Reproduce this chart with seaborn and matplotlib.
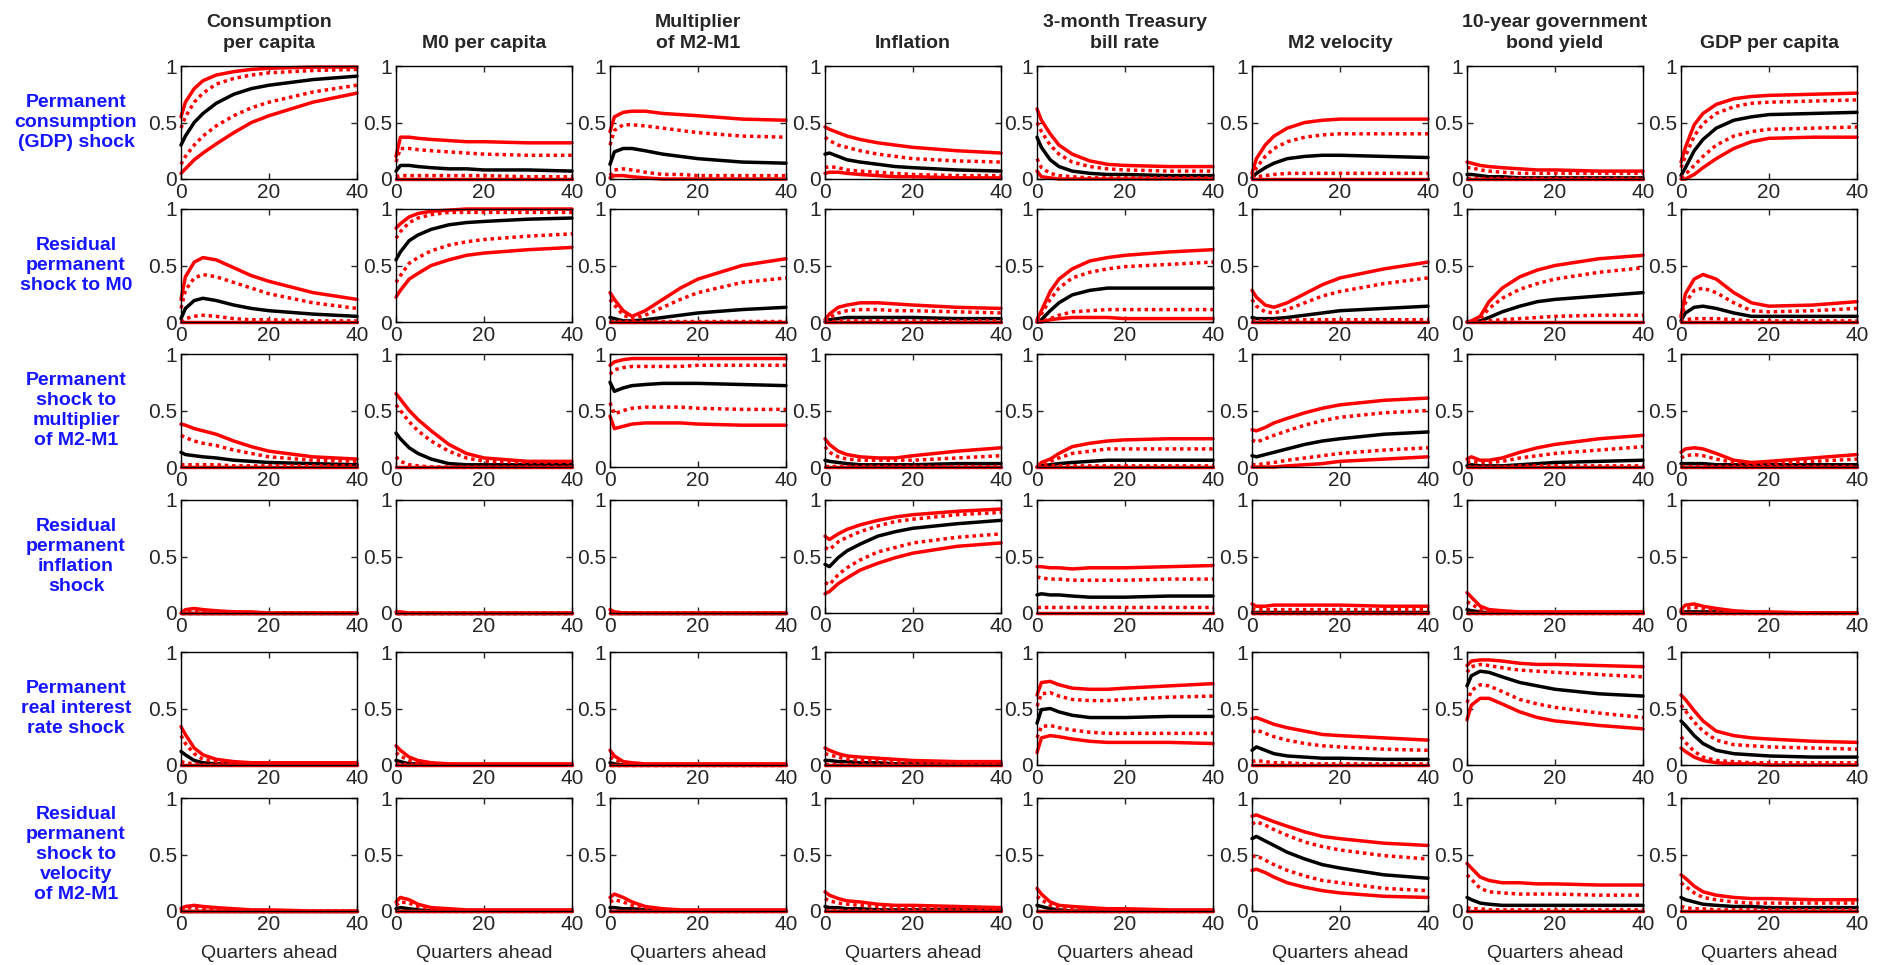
import matplotlib
matplotlib.use('Agg')
import matplotlib.pyplot as plt
import seaborn as sns

quarters = [0, 1, 3, 5, 8, 12, 16, 20, 30, 40]

col_titles = ['Consumption\nper capita', 'M0 per capita', 'Multiplier\nof M2-M1', 'Inflation',
              '3-month Treasury\nbill rate', 'M2 velocity', '10-year government\nbond yield', 'GDP per capita']
row_labels = ['Permanent\nconsumption\n(GDP) shock', 'Residual\npermanent\nshock to M0',
              'Permanent\nshock to\nmultiplier\nof M2-M1', 'Residual\npermanent\ninflation\nshock',
              'Permanent\nreal interest\nrate shock', 'Residual\npermanent\nshock to\nvelocity\nof M2-M1']

flat0 = [0, 0, 0, 0, 0, 0, 0, 0, 0, 0]
flat1 = [0.01, 0.01, 0.01, 0.01, 0.01, 0.01, 0.01, 0.01, 0.01, 0.01]

# each panel: [lower 90%, lower 68%, median, upper 68%, upper 90%]
# row 1 : permanent consumption (GDP) shock
r1c1 = [[0.05, 0.09, 0.17, 0.23, 0.31, 0.41, 0.50, 0.56, 0.68, 0.76],
        [0.13, 0.20, 0.30, 0.38, 0.47, 0.56, 0.63, 0.68, 0.77, 0.83],
        [0.30, 0.38, 0.50, 0.58, 0.67, 0.75, 0.80, 0.83, 0.88, 0.91],
        [0.45, 0.55, 0.68, 0.76, 0.84, 0.89, 0.92, 0.94, 0.96, 0.97],
        [0.55, 0.68, 0.80, 0.87, 0.92, 0.95, 0.97, 0.98, 0.99, 0.99]]
r1c2 = [flat0,
        [0.02, 0.03, 0.03, 0.03, 0.03, 0.03, 0.03, 0.03, 0.02, 0.02],
        [0.07, 0.12, 0.12, 0.11, 0.10, 0.09, 0.09, 0.08, 0.08, 0.07],
        [0.15, 0.27, 0.27, 0.26, 0.25, 0.24, 0.23, 0.22, 0.21, 0.21],
        [0.20, 0.37, 0.37, 0.36, 0.35, 0.34, 0.33, 0.33, 0.32, 0.32]]
r1c3 = [[0.01, 0.03, 0.03, 0.02, 0.01, 0.0, 0.0, 0.0, 0.0, 0.0],
        [0.03, 0.08, 0.09, 0.08, 0.06, 0.04, 0.04, 0.03, 0.03, 0.03],
        [0.13, 0.24, 0.27, 0.27, 0.25, 0.22, 0.20, 0.18, 0.15, 0.14],
        [0.30, 0.43, 0.48, 0.48, 0.47, 0.45, 0.43, 0.41, 0.38, 0.37],
        [0.42, 0.55, 0.59, 0.60, 0.60, 0.58, 0.57, 0.56, 0.53, 0.52]]
r1c4 = [[0.05, 0.06, 0.06, 0.05, 0.04, 0.03, 0.02, 0.02, 0.01, 0.01],
        [0.10, 0.11, 0.10, 0.08, 0.07, 0.06, 0.05, 0.04, 0.03, 0.03],
        [0.22, 0.23, 0.20, 0.17, 0.15, 0.13, 0.11, 0.10, 0.08, 0.07],
        [0.37, 0.34, 0.30, 0.28, 0.25, 0.22, 0.20, 0.18, 0.16, 0.15],
        [0.46, 0.44, 0.41, 0.38, 0.35, 0.32, 0.30, 0.28, 0.25, 0.23]]
r1c5 = [[0.07, 0.02, 0.01, 0.0, 0.0, 0.0, 0.0, 0.0, 0.0, 0.0],
        [0.18, 0.10, 0.05, 0.03, 0.02, 0.01, 0.01, 0.01, 0.01, 0.01],
        [0.37, 0.28, 0.17, 0.11, 0.07, 0.05, 0.04, 0.04, 0.03, 0.03],
        [0.50, 0.42, 0.30, 0.22, 0.15, 0.11, 0.09, 0.08, 0.07, 0.07],
        [0.62, 0.52, 0.40, 0.30, 0.22, 0.16, 0.13, 0.12, 0.11, 0.11]]
r1c6 = [flat0,
        [0.0, 0.02, 0.03, 0.04, 0.05, 0.05, 0.05, 0.05, 0.05, 0.05],
        [0.01, 0.05, 0.10, 0.14, 0.18, 0.20, 0.21, 0.21, 0.20, 0.19],
        [0.02, 0.10, 0.20, 0.27, 0.33, 0.37, 0.39, 0.40, 0.40, 0.40],
        [0.05, 0.18, 0.30, 0.38, 0.45, 0.50, 0.52, 0.53, 0.53, 0.53]]
r1c7 = [flat0, flat1,
        [0.04, 0.04, 0.03, 0.02, 0.02, 0.01, 0.01, 0.01, 0.01, 0.01],
        [0.10, 0.10, 0.08, 0.07, 0.06, 0.05, 0.05, 0.05, 0.05, 0.05],
        [0.15, 0.14, 0.12, 0.11, 0.10, 0.09, 0.08, 0.08, 0.07, 0.07]]
r1c8 = [[0.0, 0.0, 0.04, 0.10, 0.18, 0.27, 0.33, 0.36, 0.37, 0.37],
        [0.01, 0.04, 0.12, 0.20, 0.30, 0.38, 0.42, 0.44, 0.45, 0.46],
        [0.03, 0.10, 0.25, 0.35, 0.45, 0.52, 0.55, 0.57, 0.58, 0.59],
        [0.10, 0.20, 0.38, 0.49, 0.58, 0.64, 0.67, 0.68, 0.69, 0.70],
        [0.15, 0.28, 0.48, 0.58, 0.66, 0.71, 0.73, 0.74, 0.75, 0.76]]

# row 2 : residual permanent shock to M0
r2c1 = [flat0,
        [0.0, 0.03, 0.05, 0.06, 0.05, 0.03, 0.02, 0.02, 0.01, 0.01],
        [0.03, 0.12, 0.19, 0.21, 0.19, 0.15, 0.12, 0.10, 0.07, 0.05],
        [0.12, 0.28, 0.39, 0.42, 0.40, 0.35, 0.30, 0.25, 0.17, 0.12],
        [0.20, 0.40, 0.53, 0.57, 0.55, 0.48, 0.41, 0.36, 0.26, 0.20]]
r2c2 = [[0.22, 0.28, 0.38, 0.43, 0.50, 0.55, 0.59, 0.61, 0.64, 0.66],
        [0.35, 0.41, 0.52, 0.57, 0.63, 0.68, 0.71, 0.73, 0.76, 0.78],
        [0.55, 0.62, 0.72, 0.77, 0.82, 0.86, 0.88, 0.89, 0.91, 0.92],
        [0.74, 0.80, 0.88, 0.92, 0.95, 0.97, 0.97, 0.97, 0.97, 0.97],
        [0.83, 0.87, 0.93, 0.96, 0.98, 0.99, 1.0, 1.0, 1.0, 1.0]]
r2c3 = [flat0, flat1,
        [0.04, 0.03, 0.01, 0.01, 0.02, 0.04, 0.06, 0.08, 0.11, 0.13],
        [0.20, 0.15, 0.06, 0.03, 0.06, 0.13, 0.20, 0.26, 0.35, 0.39],
        [0.26, 0.20, 0.10, 0.05, 0.10, 0.20, 0.30, 0.38, 0.50, 0.56]]
r2c4 = [flat0,
        [0.0, 0.0, 0.01, 0.01, 0.01, 0.01, 0.01, 0.01, 0.01, 0.01],
        [0.0, 0.02, 0.03, 0.04, 0.04, 0.04, 0.04, 0.04, 0.03, 0.03],
        [0.01, 0.04, 0.08, 0.10, 0.11, 0.11, 0.10, 0.10, 0.09, 0.08],
        [0.02, 0.07, 0.13, 0.15, 0.17, 0.17, 0.16, 0.15, 0.13, 0.12]]
r2c5 = [[0.0, 0.0, 0.02, 0.03, 0.04, 0.04, 0.04, 0.03, 0.03, 0.03],
        [0.0, 0.0, 0.03, 0.06, 0.09, 0.10, 0.11, 0.11, 0.11, 0.11],
        [0.0, 0.02, 0.10, 0.17, 0.24, 0.28, 0.30, 0.30, 0.30, 0.30],
        [0.01, 0.07, 0.20, 0.30, 0.39, 0.44, 0.47, 0.49, 0.51, 0.53],
        [0.02, 0.10, 0.27, 0.38, 0.47, 0.54, 0.57, 0.59, 0.62, 0.64]]
r2c6 = [flat0,
        [0.01, 0.01, 0.01, 0.01, 0.01, 0.02, 0.02, 0.02, 0.02, 0.02],
        [0.04, 0.03, 0.03, 0.03, 0.04, 0.06, 0.08, 0.10, 0.12, 0.14],
        [0.20, 0.14, 0.09, 0.08, 0.11, 0.17, 0.23, 0.27, 0.34, 0.39],
        [0.28, 0.22, 0.15, 0.13, 0.17, 0.25, 0.33, 0.39, 0.47, 0.53]]
r2c7 = [flat0,
        [0.0, 0.0, 0.0, 0.01, 0.02, 0.03, 0.04, 0.05, 0.06, 0.06],
        [0.0, 0.0, 0.01, 0.04, 0.09, 0.14, 0.18, 0.20, 0.23, 0.26],
        [0.0, 0.0, 0.03, 0.12, 0.21, 0.29, 0.34, 0.38, 0.44, 0.48],
        [0.0, 0.01, 0.05, 0.18, 0.30, 0.40, 0.46, 0.50, 0.56, 0.59]]
r2c8 = [flat0,
        [0.0, 0.02, 0.03, 0.03, 0.03, 0.02, 0.01, 0.01, 0.01, 0.01],
        [0.01, 0.08, 0.13, 0.14, 0.12, 0.08, 0.05, 0.05, 0.05, 0.05],
        [0.03, 0.17, 0.28, 0.30, 0.26, 0.17, 0.10, 0.09, 0.10, 0.12],
        [0.05, 0.25, 0.38, 0.42, 0.38, 0.26, 0.17, 0.14, 0.15, 0.18]]

# row 3 : permanent shock to multiplier of M2-M1
r3c1 = [flat0,
        [0.02, 0.02, 0.02, 0.02, 0.02, 0.01, 0.01, 0.01, 0.01, 0.01],
        [0.13, 0.11, 0.10, 0.09, 0.08, 0.06, 0.05, 0.04, 0.03, 0.02],
        [0.28, 0.26, 0.23, 0.21, 0.19, 0.15, 0.12, 0.09, 0.06, 0.05],
        [0.38, 0.37, 0.34, 0.32, 0.29, 0.23, 0.18, 0.14, 0.09, 0.07]]
r3c2 = [flat0,
        [0.09, 0.05, 0.02, 0.01, 0.0, 0.0, 0.0, 0.0, 0.0, 0.0],
        [0.30, 0.25, 0.17, 0.12, 0.07, 0.03, 0.02, 0.02, 0.02, 0.02],
        [0.55, 0.50, 0.40, 0.32, 0.23, 0.14, 0.08, 0.05, 0.04, 0.04],
        [0.65, 0.60, 0.50, 0.42, 0.32, 0.20, 0.12, 0.08, 0.05, 0.05]]
r3c3 = [[0.45, 0.34, 0.36, 0.38, 0.39, 0.39, 0.39, 0.38, 0.37, 0.37],
        [0.57, 0.47, 0.50, 0.52, 0.53, 0.53, 0.53, 0.52, 0.51, 0.51],
        [0.75, 0.67, 0.70, 0.72, 0.73, 0.74, 0.74, 0.74, 0.73, 0.72],
        [0.82, 0.86, 0.88, 0.89, 0.89, 0.89, 0.89, 0.90, 0.90, 0.90],
        [0.90, 0.93, 0.95, 0.96, 0.96, 0.96, 0.96, 0.96, 0.96, 0.96]]
r3c4 = [flat0, flat1,
        [0.06, 0.05, 0.04, 0.03, 0.02, 0.02, 0.02, 0.02, 0.03, 0.03],
        [0.18, 0.13, 0.09, 0.07, 0.06, 0.06, 0.06, 0.06, 0.08, 0.10],
        [0.25, 0.20, 0.14, 0.11, 0.09, 0.08, 0.08, 0.10, 0.14, 0.17]]
r3c5 = [flat0,
        [0.0, 0.0, 0.01, 0.01, 0.01, 0.01, 0.01, 0.01, 0.01, 0.01],
        [0.0, 0.01, 0.02, 0.03, 0.04, 0.05, 0.06, 0.06, 0.06, 0.06],
        [0.0, 0.02, 0.05, 0.08, 0.12, 0.14, 0.16, 0.16, 0.16, 0.16],
        [0.0, 0.04, 0.07, 0.12, 0.18, 0.21, 0.23, 0.24, 0.25, 0.25]]
r3c6 = [[0.0, 0.0, 0.0, 0.0, 0.01, 0.02, 0.03, 0.05, 0.07, 0.09],
        [0.02, 0.02, 0.03, 0.04, 0.06, 0.08, 0.10, 0.12, 0.15, 0.17],
        [0.10, 0.09, 0.11, 0.13, 0.16, 0.20, 0.23, 0.25, 0.29, 0.31],
        [0.24, 0.22, 0.25, 0.28, 0.32, 0.37, 0.41, 0.44, 0.48, 0.50],
        [0.33, 0.32, 0.35, 0.39, 0.43, 0.48, 0.52, 0.55, 0.59, 0.61]]
r3c7 = [flat0,
        [0.0, 0.0, 0.0, 0.0, 0.0, 0.01, 0.01, 0.01, 0.01, 0.01],
        [0.01, 0.02, 0.01, 0.01, 0.01, 0.02, 0.03, 0.04, 0.05, 0.06],
        [0.04, 0.05, 0.04, 0.04, 0.05, 0.08, 0.10, 0.12, 0.15, 0.18],
        [0.07, 0.09, 0.06, 0.06, 0.08, 0.13, 0.17, 0.20, 0.25, 0.28]]
r3c8 = [flat0, flat1,
        [0.03, 0.03, 0.03, 0.03, 0.02, 0.02, 0.02, 0.02, 0.02, 0.02],
        [0.08, 0.10, 0.11, 0.10, 0.07, 0.04, 0.03, 0.03, 0.05, 0.07],
        [0.13, 0.16, 0.17, 0.16, 0.12, 0.06, 0.04, 0.05, 0.08, 0.11]]

# row 4 : residual permanent inflation shock
r4c1 = [flat0, flat0, flat0,
        [0.0, 0.02, 0.02, 0.02, 0.01, 0.01, 0.0, 0.0, 0.0, 0.0],
        [0.0, 0.03, 0.04, 0.03, 0.02, 0.01, 0.01, 0.0, 0.0, 0.0]]
r4c2 = [flat0, flat0, flat0, flat0,
        [0.01, 0.01, 0.0, 0.0, 0.0, 0.0, 0.0, 0.0, 0.0, 0.0]]
r4c3 = [flat0, flat0, flat0,
        [0.02, 0.01, 0.0, 0.0, 0.0, 0.0, 0.0, 0.0, 0.0, 0.0],
        [0.03, 0.01, 0.0, 0.0, 0.0, 0.0, 0.0, 0.0, 0.0, 0.0]]
r4c4 = [[0.17, 0.19, 0.26, 0.31, 0.38, 0.44, 0.49, 0.53, 0.59, 0.62],
        [0.27, 0.25, 0.34, 0.40, 0.47, 0.54, 0.58, 0.62, 0.67, 0.70],
        [0.43, 0.41, 0.49, 0.55, 0.61, 0.68, 0.72, 0.75, 0.79, 0.82],
        [0.58, 0.56, 0.63, 0.67, 0.72, 0.77, 0.81, 0.83, 0.87, 0.89],
        [0.68, 0.65, 0.70, 0.74, 0.78, 0.82, 0.85, 0.87, 0.90, 0.92]]
r4c5 = [flat0,
        [0.05, 0.05, 0.05, 0.05, 0.05, 0.05, 0.05, 0.05, 0.05, 0.05],
        [0.16, 0.17, 0.16, 0.16, 0.15, 0.14, 0.14, 0.14, 0.15, 0.15],
        [0.32, 0.31, 0.30, 0.30, 0.29, 0.29, 0.29, 0.29, 0.30, 0.30],
        [0.41, 0.41, 0.40, 0.40, 0.39, 0.40, 0.40, 0.40, 0.41, 0.42]]
r4c6 = [flat0, flat0, flat1,
        [0.04, 0.03, 0.03, 0.03, 0.03, 0.03, 0.03, 0.03, 0.03, 0.03],
        [0.08, 0.06, 0.06, 0.07, 0.07, 0.07, 0.07, 0.07, 0.06, 0.06]]
r4c7 = [flat0, flat0,
        [0.03, 0.02, 0.01, 0.0, 0.0, 0.0, 0.0, 0.0, 0.0, 0.0],
        [0.10, 0.08, 0.03, 0.02, 0.01, 0.0, 0.0, 0.0, 0.0, 0.0],
        [0.18, 0.14, 0.06, 0.03, 0.02, 0.01, 0.01, 0.01, 0.01, 0.01]]
r4c8 = [flat0, flat0,
        [0.01, 0.01, 0.01, 0.01, 0.01, 0.0, 0.0, 0.0, 0.0, 0.0],
        [0.01, 0.04, 0.05, 0.04, 0.02, 0.01, 0.0, 0.0, 0.0, 0.0],
        [0.03, 0.07, 0.08, 0.06, 0.04, 0.02, 0.01, 0.01, 0.0, 0.0]]

# row 5 : permanent real interest rate shock
r5c1 = [flat0,
        [0.03, 0.02, 0.01, 0.0, 0.0, 0.0, 0.0, 0.0, 0.0, 0.0],
        [0.12, 0.09, 0.04, 0.02, 0.01, 0.01, 0.0, 0.0, 0.0, 0.0],
        [0.26, 0.19, 0.10, 0.05, 0.03, 0.02, 0.01, 0.01, 0.01, 0.01],
        [0.34, 0.27, 0.15, 0.09, 0.05, 0.03, 0.02, 0.02, 0.02, 0.02]]
r5c2 = [flat0,
        [0.01, 0.01, 0.0, 0.0, 0.0, 0.0, 0.0, 0.0, 0.0, 0.0],
        [0.04, 0.03, 0.01, 0.01, 0.0, 0.0, 0.0, 0.0, 0.0, 0.0],
        [0.11, 0.08, 0.04, 0.02, 0.01, 0.01, 0.0, 0.0, 0.0, 0.0],
        [0.17, 0.13, 0.07, 0.04, 0.02, 0.01, 0.01, 0.01, 0.01, 0.01]]
r5c3 = [flat0, flat0,
        [0.02, 0.01, 0.0, 0.0, 0.0, 0.0, 0.0, 0.0, 0.0, 0.0],
        [0.07, 0.05, 0.02, 0.01, 0.0, 0.0, 0.0, 0.0, 0.0, 0.0],
        [0.13, 0.08, 0.03, 0.02, 0.01, 0.01, 0.01, 0.01, 0.01, 0.01]]
r5c4 = [flat0, flat1,
        [0.04, 0.04, 0.03, 0.03, 0.02, 0.02, 0.01, 0.01, 0.01, 0.01],
        [0.10, 0.09, 0.07, 0.05, 0.04, 0.04, 0.03, 0.03, 0.02, 0.02],
        [0.15, 0.13, 0.10, 0.08, 0.07, 0.06, 0.05, 0.04, 0.03, 0.03]]
r5c5 = [[0.11, 0.24, 0.26, 0.25, 0.23, 0.21, 0.20, 0.20, 0.20, 0.19],
        [0.24, 0.34, 0.35, 0.33, 0.31, 0.29, 0.28, 0.28, 0.28, 0.28],
        [0.37, 0.49, 0.50, 0.47, 0.44, 0.42, 0.42, 0.42, 0.43, 0.43],
        [0.52, 0.63, 0.64, 0.61, 0.58, 0.57, 0.57, 0.58, 0.60, 0.61],
        [0.62, 0.73, 0.74, 0.71, 0.68, 0.67, 0.67, 0.68, 0.70, 0.72]]
r5c6 = [flat0,
        [0.03, 0.04, 0.03, 0.02, 0.02, 0.01, 0.01, 0.01, 0.01, 0.01],
        [0.13, 0.16, 0.13, 0.10, 0.08, 0.07, 0.06, 0.06, 0.05, 0.05],
        [0.29, 0.31, 0.28, 0.25, 0.22, 0.19, 0.17, 0.16, 0.14, 0.13],
        [0.41, 0.42, 0.39, 0.36, 0.33, 0.30, 0.27, 0.26, 0.24, 0.22]]
r5c7 = [[0.40, 0.53, 0.59, 0.59, 0.54, 0.47, 0.42, 0.39, 0.35, 0.32],
        [0.55, 0.66, 0.71, 0.70, 0.65, 0.58, 0.54, 0.51, 0.46, 0.42],
        [0.70, 0.79, 0.83, 0.82, 0.78, 0.73, 0.70, 0.67, 0.63, 0.61],
        [0.82, 0.87, 0.89, 0.88, 0.86, 0.84, 0.83, 0.82, 0.80, 0.78],
        [0.88, 0.92, 0.93, 0.93, 0.92, 0.90, 0.89, 0.89, 0.88, 0.87]]
r5c8 = [[0.15, 0.12, 0.07, 0.04, 0.02, 0.01, 0.01, 0.0, 0.0, 0.0],
        [0.25, 0.20, 0.12, 0.07, 0.04, 0.03, 0.02, 0.02, 0.02, 0.02],
        [0.39, 0.35, 0.26, 0.19, 0.13, 0.10, 0.09, 0.08, 0.07, 0.07],
        [0.53, 0.48, 0.38, 0.30, 0.22, 0.18, 0.17, 0.16, 0.15, 0.14],
        [0.62, 0.58, 0.48, 0.39, 0.30, 0.26, 0.24, 0.23, 0.21, 0.20]]

# row 6 : residual permanent shock to velocity of M2-M1
r6c1 = [flat0, flat0, flat0,
        [0.01, 0.03, 0.03, 0.02, 0.01, 0.01, 0.0, 0.0, 0.0, 0.0],
        [0.02, 0.04, 0.05, 0.04, 0.03, 0.02, 0.01, 0.01, 0.0, 0.0]]
r6c2 = [flat0, flat0,
        [0.02, 0.03, 0.02, 0.01, 0.0, 0.0, 0.0, 0.0, 0.0, 0.0],
        [0.05, 0.08, 0.07, 0.04, 0.02, 0.01, 0.0, 0.0, 0.0, 0.0],
        [0.08, 0.12, 0.10, 0.06, 0.03, 0.02, 0.01, 0.01, 0.01, 0.01]]
r6c3 = [flat0, flat0,
        [0.03, 0.03, 0.02, 0.02, 0.01, 0.0, 0.0, 0.0, 0.0, 0.0],
        [0.08, 0.10, 0.08, 0.05, 0.03, 0.01, 0.0, 0.0, 0.0, 0.0],
        [0.12, 0.15, 0.12, 0.08, 0.04, 0.02, 0.01, 0.01, 0.01, 0.01]]
r6c4 = [flat0, flat1,
        [0.04, 0.03, 0.03, 0.02, 0.02, 0.01, 0.01, 0.01, 0.01, 0.01],
        [0.11, 0.09, 0.07, 0.06, 0.05, 0.04, 0.03, 0.03, 0.02, 0.02],
        [0.17, 0.14, 0.11, 0.09, 0.08, 0.06, 0.05, 0.05, 0.04, 0.03]]
r6c5 = [flat0, flat0,
        [0.05, 0.04, 0.02, 0.01, 0.0, 0.0, 0.0, 0.0, 0.0, 0.0],
        [0.13, 0.10, 0.05, 0.03, 0.02, 0.02, 0.01, 0.01, 0.0, 0.0],
        [0.20, 0.15, 0.08, 0.05, 0.04, 0.03, 0.02, 0.02, 0.01, 0.01]]
r6c6 = [[0.36, 0.37, 0.34, 0.30, 0.25, 0.21, 0.18, 0.16, 0.13, 0.12],
        [0.48, 0.49, 0.45, 0.41, 0.36, 0.31, 0.27, 0.25, 0.20, 0.18],
        [0.64, 0.66, 0.62, 0.58, 0.52, 0.46, 0.41, 0.38, 0.32, 0.29],
        [0.77, 0.79, 0.76, 0.72, 0.67, 0.61, 0.57, 0.54, 0.49, 0.46],
        [0.84, 0.85, 0.82, 0.79, 0.75, 0.70, 0.66, 0.64, 0.60, 0.58]]
r6c7 = [flat0,
        [0.03, 0.02, 0.02, 0.01, 0.01, 0.01, 0.01, 0.01, 0.01, 0.01],
        [0.12, 0.10, 0.07, 0.06, 0.05, 0.05, 0.05, 0.05, 0.05, 0.05],
        [0.32, 0.28, 0.20, 0.17, 0.16, 0.15, 0.15, 0.15, 0.14, 0.14],
        [0.42, 0.38, 0.30, 0.27, 0.25, 0.25, 0.24, 0.24, 0.23, 0.23]]
r6c8 = [flat0,
        [0.04, 0.03, 0.02, 0.02, 0.01, 0.01, 0.01, 0.01, 0.01, 0.01],
        [0.12, 0.10, 0.08, 0.06, 0.05, 0.04, 0.04, 0.03, 0.03, 0.03],
        [0.25, 0.22, 0.16, 0.12, 0.10, 0.08, 0.07, 0.07, 0.07, 0.07],
        [0.32, 0.29, 0.22, 0.17, 0.14, 0.12, 0.11, 0.11, 0.10, 0.10]]

grid = [[r1c1, r1c2, r1c3, r1c4, r1c5, r1c6, r1c7, r1c8],
        [r2c1, r2c2, r2c3, r2c4, r2c5, r2c6, r2c7, r2c8],
        [r3c1, r3c2, r3c3, r3c4, r3c5, r3c6, r3c7, r3c8],
        [r4c1, r4c2, r4c3, r4c4, r4c5, r4c6, r4c7, r4c8],
        [r5c1, r5c2, r5c3, r5c4, r5c5, r5c6, r5c7, r5c8],
        [r6c1, r6c2, r6c3, r6c4, r6c5, r6c6, r6c7, r6c8]]

sns.set_style('ticks')
plt.rcParams['font.family'] = ['Liberation Sans', 'DejaVu Sans']

W, H = 1885, 965
fig = plt.figure(figsize=(W / 100, H / 100), dpi=100)

col_left = [181, 396, 610, 825, 1037, 1252, 1467, 1681]
row_top = [66, 209, 354, 500, 652, 798]
pw, ph = 176, 113

dot = (0, (1, 1.1))
# draw order: median, inner band, outer band
draw = [(2, 'black', '-'), (1, 'red', dot), (3, 'red', dot), (0, 'red', '-'), (4, 'red', '-')]

for r in range(6):
    for c in range(8):
        ax = fig.add_axes([col_left[c] / W, 1 - (row_top[r] + ph) / H, pw / W, ph / H])
        panel = grid[r][c]
        for idx, col, ls in draw:
            sns.lineplot(x=quarters, y=panel[idx], ax=ax, color=col, linestyle=ls,
                         linewidth=2.5, clip_on=False)
        ax.set_xlim(0, 40)
        ax.set_ylim(0, 1)
        ax.set_xticks([0, 20, 40])
        ax.set_yticks([0, 0.5, 1])
        ax.set_yticklabels(['0', '0.5', '1'])
        ax.tick_params(direction='in', top=True, right=True, length=4, width=1,
                       labelsize=15, pad=3)
        for s in ax.spines.values():
            s.set_linewidth(1.0)
            s.set_color('black')
        if r == 0:
            ax.set_title(col_titles[c], fontsize=14, fontweight='bold', pad=13, linespacing=1.3)
        if r == 5:
            ax.set_xlabel('Quarters ahead', fontsize=14, labelpad=8)
        if c == 0:
            yc = 1 - (row_top[r] + ph / 2) / H
            fig.text(76 / W, yc, row_labels[r], color='#1515ff', fontsize=14, fontweight='bold',
                     ha='center', va='center', linespacing=1.22)

fig.savefig('out.png', dpi=100)
